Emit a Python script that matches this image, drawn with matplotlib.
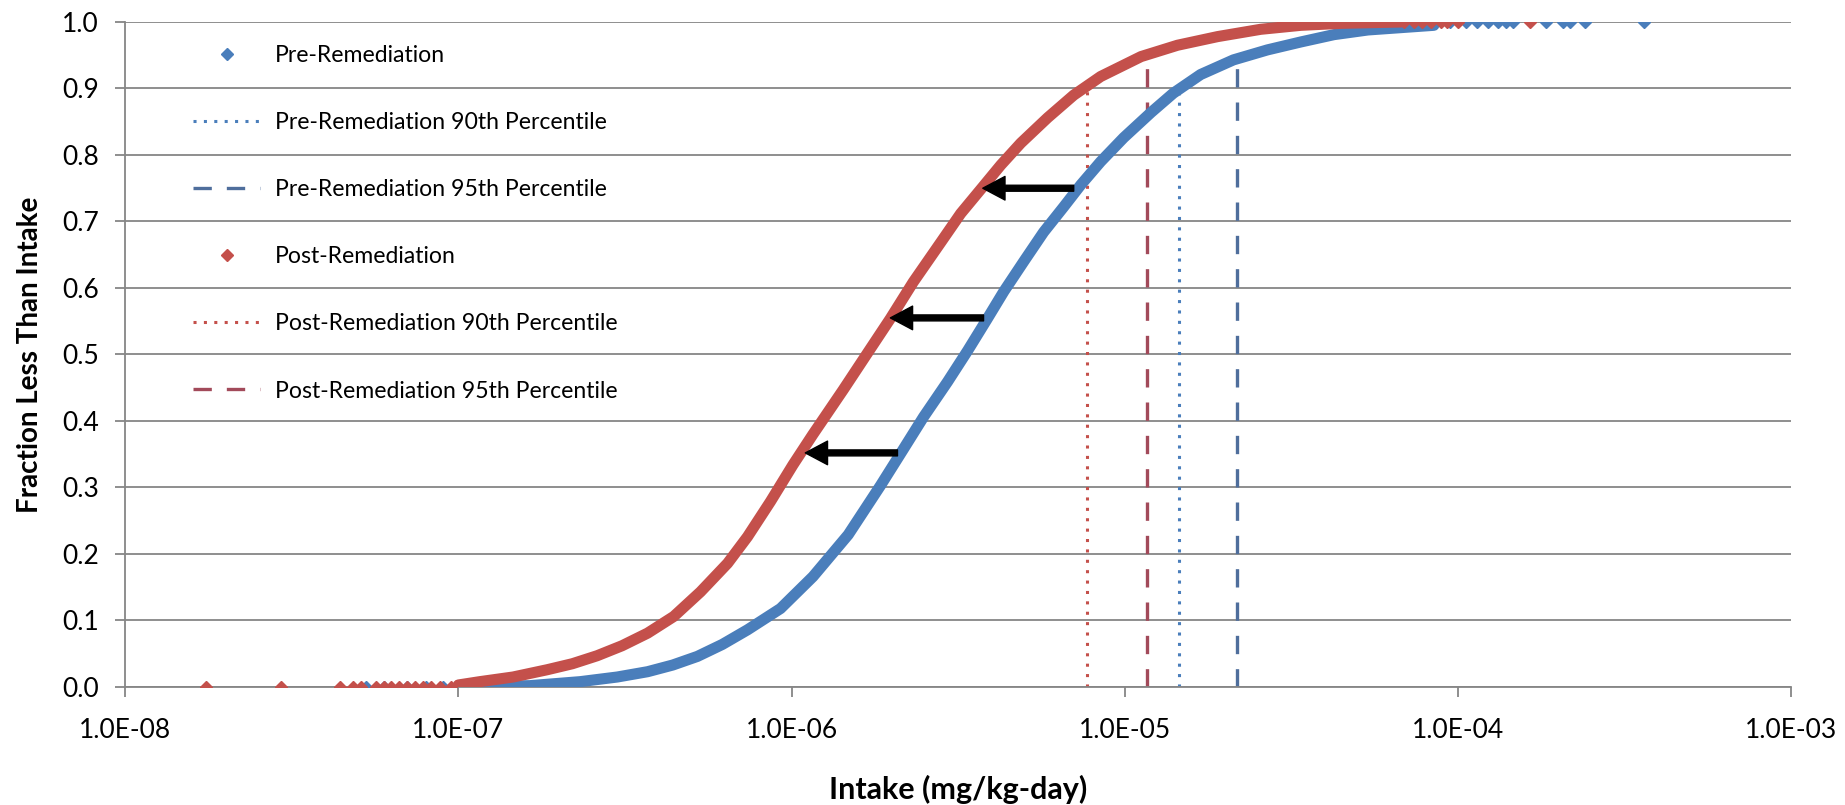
import matplotlib
matplotlib.use('Agg')
import matplotlib.pyplot as plt
from matplotlib.ticker import FuncFormatter, FixedLocator, NullLocator

plt.rcParams['font.family'] = ['Lato', 'DejaVu Sans']

# CDF of intake (x in mg/kg-day, y = fraction less than)
pre_x = [1.0e-7, 1.64e-7, 2.32e-7, 3.0e-7, 3.70e-7, 4.4e-7, 5.22e-7, 6.2e-7, 7.38e-7,
         9.27e-7, 1.16e-6, 1.48e-6, 1.85e-6, 2.15e-6, 2.49e-6, 2.94e-6, 3.38e-6, 3.85e-6,
         4.34e-6, 4.98e-6, 5.71e-6, 6.56e-6, 7.38e-6, 8.47e-6, 9.93e-6, 1.2e-5, 1.4e-5,
         1.69e-5, 2.12e-5, 2.68e-5, 3.38e-5, 4.25e-5, 5.37e-5, 8.47e-5]
pre_y = [0.0, 0.002, 0.008, 0.015, 0.023, 0.033, 0.046, 0.064, 0.086,
         0.118, 0.166, 0.229, 0.303, 0.355, 0.406, 0.459, 0.506, 0.552,
         0.595, 0.640, 0.684, 0.722, 0.755, 0.790, 0.826, 0.864, 0.893,
         0.921, 0.943, 0.958, 0.970, 0.981, 0.988, 0.995]

post_x = [1.0e-7, 1.16e-7, 1.46e-7, 1.85e-7, 2.2e-7, 2.61e-7, 3.1e-7, 3.70e-7, 4.43e-7,
          5.33e-7, 6.43e-7, 7.38e-7, 8.65e-7, 1.01e-6, 1.16e-6, 1.43e-6, 1.69e-6, 1.98e-6,
          2.32e-6, 2.80e-6, 3.22e-6, 3.75e-6, 4.25e-6, 4.88e-6, 5.87e-6, 7.03e-6, 8.47e-6,
          1.12e-5, 1.44e-5, 1.90e-5, 2.56e-5, 3.38e-5, 4.5e-5, 6.75e-5]
post_y = [0.003, 0.008, 0.015, 0.026, 0.035, 0.047, 0.062, 0.081, 0.106,
          0.143, 0.186, 0.226, 0.279, 0.334, 0.380, 0.447, 0.502, 0.554,
          0.609, 0.668, 0.712, 0.752, 0.785, 0.818, 0.856, 0.890, 0.918,
          0.948, 0.965, 0.978, 0.989, 0.995, 0.998, 1.0]

# single points visible in the tails
pre_low_x = [5.3e-8, 6.0e-8, 7.0e-8, 8.0e-8, 9.0e-8]
pre_high_x = [8.5e-5, 9.5e-5, 1.06e-4, 1.14e-4, 1.23e-4, 1.32e-4, 1.39e-4, 1.46e-4,
              1.84e-4, 2.06e-4, 2.17e-4, 2.40e-4, 3.62e-4]
post_low_x = [1.75e-8, 2.94e-8, 4.43e-8, 4.84e-8, 5.1e-8, 5.67e-8, 6.0e-8, 6.3e-8,
              6.65e-8, 7.03e-8, 7.43e-8, 7.86e-8, 8.3e-8, 8.8e-8, 9.5e-8]
post_high_x = [6.9e-5, 7.4e-5, 7.8e-5, 8.3e-5, 8.9e-5, 9.3e-5, 1.0e-4, 1.64e-4]

# percentiles
pre_p90, pre_p95 = 1.46e-5, 2.17e-5
post_p90, post_p95 = 7.69e-6, 1.17e-5

# arrows (from pre curve to post curve)
arrow_y = [0.75, 0.555, 0.352]
arrow_from = [7.03e-6, 3.77e-6, 2.08e-6]
arrow_to = [3.75e-6, 1.98e-6, 1.10e-6]

blue = '#4A7EBB'
red = '#C4504B'
blue_dk = '#4F6E9C'
red_dk = '#A24A5A'
grey = '#868686'

fig = plt.figure(figsize=(18.45, 8.05), dpi=100)
ax = fig.add_axes([0.0678, 0.1466, 0.9030, 0.8261])

ax.set_xscale('log')
ax.set_xlim(1e-8, 1e-3)
ax.set_ylim(0, 1.0)

# curves
ax.plot(pre_x, pre_y, color=blue, lw=8, solid_capstyle='round', solid_joinstyle='round', zorder=3)
ax.plot(pre_low_x, [0] * len(pre_low_x), 'D', color=blue, ms=6.5, zorder=3)
ax.plot(pre_high_x, [1.0] * len(pre_high_x), 'D', color=blue, ms=6.5, zorder=3)
ax.plot(post_x, post_y, color=red, lw=8, solid_capstyle='round', solid_joinstyle='round', zorder=4)
ax.plot(post_low_x, [0] * len(post_low_x), 'D', color=red, ms=6.5, zorder=4)
ax.plot(post_high_x, [1.0] * len(post_high_x), 'D', color=red, ms=6.5, zorder=4)

# percentile lines
l1, = ax.plot([pre_p90, pre_p90], [0, 0.9], color=blue, lw=2.2, dashes=(1, 2.4), zorder=2)
l2, = ax.plot([pre_p95, pre_p95], [0, 0.95], color=blue_dk, lw=2.4, dashes=(5.5, 4.5), zorder=2)
l3, = ax.plot([post_p90, post_p90], [0, 0.9], color=red, lw=2.2, dashes=(1, 2.4), zorder=2)
l4, = ax.plot([post_p95, post_p95], [0, 0.95], color=red_dk, lw=2.4, dashes=(5.5, 4.5), zorder=2)

for y, x0, x1 in zip(arrow_y, arrow_from, arrow_to):
    ax.annotate('', xy=(x1, y), xytext=(x0, y),
                arrowprops=dict(facecolor='black', edgecolor='black', width=4.3,
                                headwidth=17, headlength=16, shrink=0), zorder=6)

# legend handles
h_pre, = ax.plot([], [], 'D', color=blue, ms=6)
h_post, = ax.plot([], [], 'D', color=red, ms=6)
handles = [h_pre, l1, l2, h_post, l3, l4]
labels = ['Pre-Remediation', 'Pre-Remediation 90th Percentile', 'Pre-Remediation 95th Percentile',
          'Post-Remediation', 'Post-Remediation 90th Percentile', 'Post-Remediation 95th Percentile']
ax.legend(handles, labels, loc='upper left', bbox_to_anchor=(0.041, 0.9654), frameon=False,
          fontsize=16.6, labelspacing=2.0, handlelength=2.9, handletextpad=0.65,
          borderpad=0, borderaxespad=0, numpoints=1)

# axes styling
ax.yaxis.set_major_locator(FixedLocator([i / 10 for i in range(11)]))
ax.yaxis.set_major_formatter(FuncFormatter(lambda v, p: '%.1f' % v))
ax.xaxis.set_major_locator(FixedLocator([1e-8, 1e-7, 1e-6, 1e-5, 1e-4, 1e-3]))
ax.xaxis.set_minor_locator(NullLocator())
ax.xaxis.set_major_formatter(FuncFormatter(lambda v, p: '%.1E' % v))
ax.grid(axis='y', color=grey, lw=1.3, zorder=0)
ax.set_axisbelow(True)
for s in ['top', 'right']:
    ax.spines[s].set_visible(False)
for s in ['left', 'bottom']:
    ax.spines[s].set_color(grey)
    ax.spines[s].set_linewidth(1.3)
ax.tick_params(axis='y', length=7, width=1.3, color=grey, pad=12, labelsize=19)
ax.tick_params(axis='x', length=7, width=1.3, color=grey, pad=15, labelsize=19)

ax.set_xlabel('Intake (mg/kg-day)', fontsize=22, fontweight='bold', labelpad=23)
ax.set_ylabel('Fraction Less Than Intake', fontsize=20, fontweight='bold')
ax.yaxis.set_label_coords(-0.0495, 0.5)

fig.savefig('out.png', dpi=100)
